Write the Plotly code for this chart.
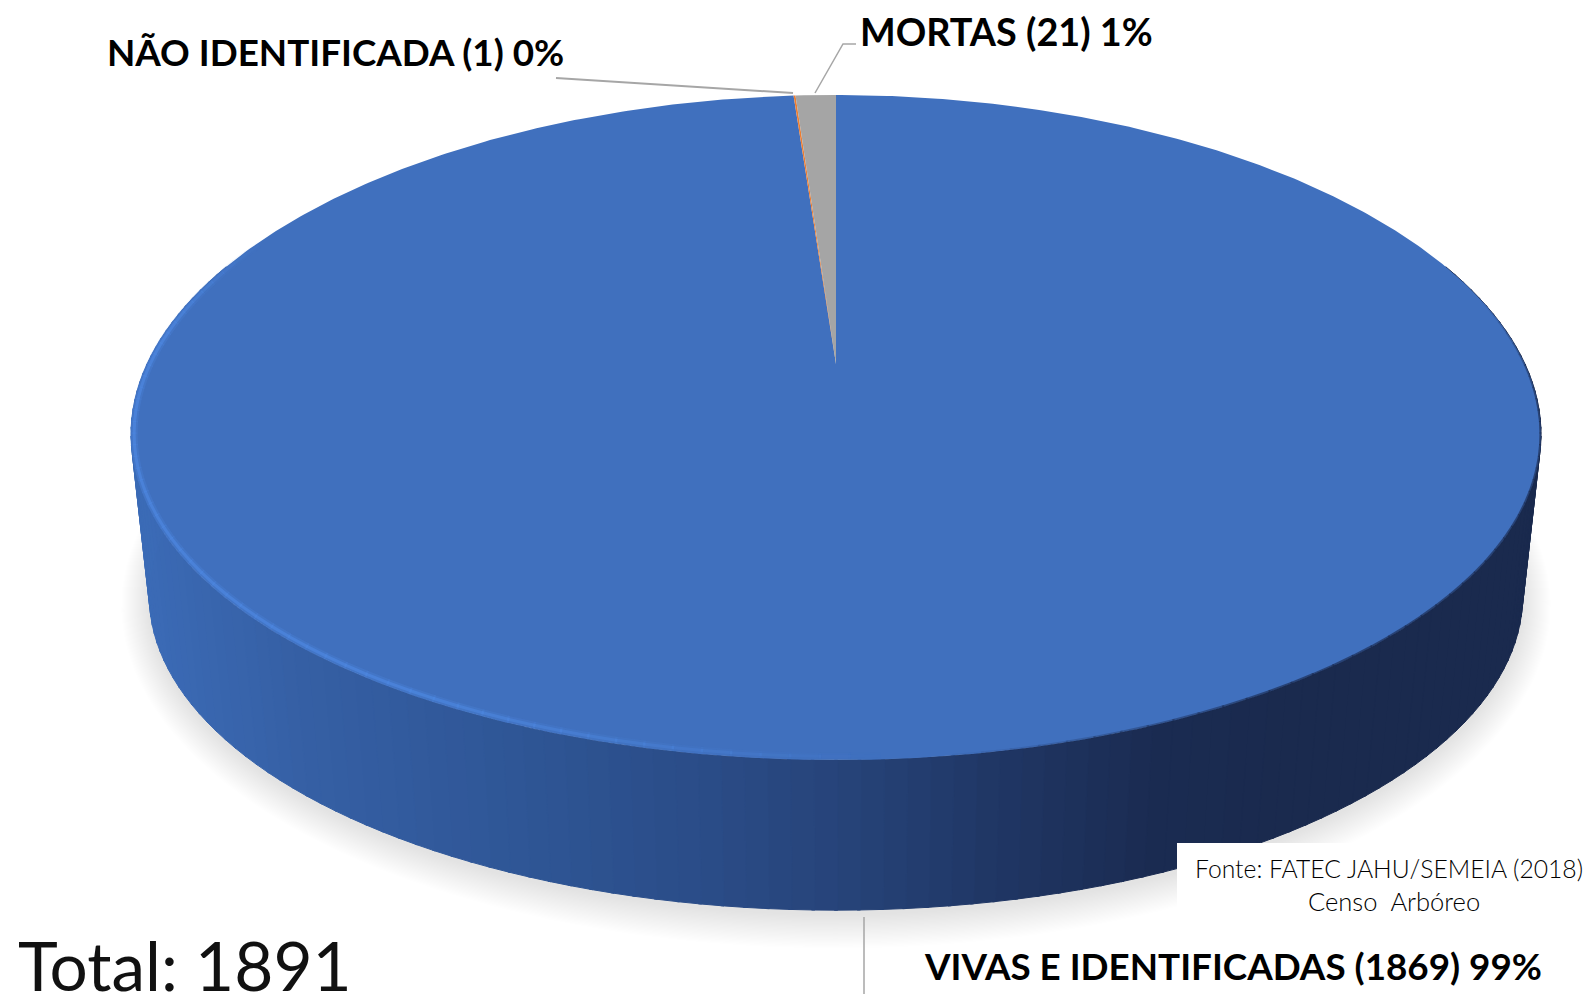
import numpy as np
import plotly.graph_objects as go

# ---- data ----
categories = ["VIVAS E IDENTIFICADAS", "NÃO IDENTIFICADA", "MORTAS"]
values = [1869, 1, 21]
percent_labels = ["99%", "0%", "1%"]
total_label = "Total: 1891"
source_lines = ["Fonte: FATEC JAHU/SEMEIA (2018)", "Censo  Arbóreo"]

# ---- styles ----
W, H = 1588, 994
slice_colors = ["#4070BE", "#ED7D31", "#A5A5A5"]
leader = "#A6A6A6"
CX, K = 836.0, 0.191
TOP = dict(a=692.0, b=320.4, ay=364.0, sag=7.0)
BOT = dict(a=674.0, b=300.6, ay=538.6, sag=-2.0)
wall_stops_x = [131, 300, 520, 700, 836, 1000, 1150, 1300, 1541]
wall_stops_c = [(60, 108, 184), (54, 96, 165), (47, 86, 150), (43, 77, 136), (39, 68, 122),
                (32, 54, 100), (27, 44, 82), (26, 42, 78), (26, 42, 78)]
label_sizes = [36.8, 36.8, 37.8]


def project(theta, g, grow=0.0):
    t = np.asarray(theta)
    d = 1 + K * np.cos(t)
    return (CX + (g["a"] + grow) * np.sin(t) / d,
            g["ay"] - (g["b"] + grow) * np.cos(t) / d + g["sag"] * np.sin(t) ** 2)


def wall_color(x):
    return "rgb(%d,%d,%d)" % tuple(np.interp(x, wall_stops_x, [c[i] for c in wall_stops_c]) for i in range(3))


fig = go.Figure()


def poly(x, y, color, name=None):
    fig.add_trace(go.Scatter(x=x, y=y, mode="lines", fill="toself", fillcolor=color,
                             line=dict(width=0, color=color), showlegend=False,
                             hoverinfo="text" if name else "skip", text=name, hoveron="fills"))


# soft shadow below the disc
ring = np.linspace(0, 2 * np.pi, 241)
for d in range(28, 0, -1):
    sx, sy = project(ring, BOT, grow=d)
    poly(sx, sy + 4, "rgba(0,0,0,0.0052)")

# outer wall, one band per few degrees
edges = np.radians(np.linspace(70, 290, 141))
for t0, t1 in zip(edges[:-1], edges[1:]):
    t = np.array([t0 - 0.002, t1 + 0.002])
    xa, ya = project(t, TOP)
    xb, yb = project(t, BOT)
    c = wall_color((xa.mean() + xb.mean()) / 2)
    fig.add_trace(go.Scatter(x=[xa[0], xa[1], xb[1], xb[0], xa[0]], y=[ya[0], ya[1], yb[1], yb[0], ya[0]],
                             mode="lines", fill="toself", fillcolor=c, line=dict(width=1, color=c),
                             showlegend=False, hoverinfo="skip"))

# top-face slices, built from the values
fractions = np.array(values) / np.sum(values)
angles = np.concatenate([[0], np.cumsum(fractions)]) * 2 * np.pi
apex_y = TOP["ay"]
for i, cat in enumerate(categories):
    t = np.linspace(angles[i], angles[i + 1], max(3, int(360 * fractions[i]) * 2))
    x, y = project(t, TOP)
    poly(np.r_[CX, x, CX], np.r_[apex_y, y, apex_y], slice_colors[i],
         f"{cat} ({values[i]}) {percent_labels[i]}")

# bevel: light on the left/front rim, dark on the right rim
rim = np.radians(np.linspace(175, 295, 61))
for t0, t1 in zip(rim[:-1], rim[1:]):
    t = np.array([t0, t1 + 0.003])
    x, y = project(t, TOP, grow=-3)
    deg = np.degrees(t0)
    alpha = min(1.0, (deg - 175) / 35) * min(1.0, (295 - deg) / 20)
    for width, a in [(7, 0.3), (3, 0.75)]:
        fig.add_trace(go.Scatter(x=x, y=y, mode="lines", line=dict(color=f"rgba(76,134,222,{alpha * a:.2f})", width=width),
                                 showlegend=False, hoverinfo="skip"))
rim = np.radians(np.linspace(75, 172, 50))
for t0, t1 in zip(rim[:-1], rim[1:]):
    t = np.array([t0, t1 + 0.003])
    x, y = project(t, TOP, grow=-0.5)
    deg = np.degrees(t0)
    alpha = 0.65 * min(1.0, (deg - 75) / 20) * min(1.0, (172 - deg) / 25)
    fig.add_trace(go.Scatter(x=x, y=y, mode="lines", line=dict(color=f"rgba(26,42,78,{alpha:.2f})", width=2),
                             showlegend=False, hoverinfo="skip"))

# leader lines
shapes = [dict(type="path", path=p, line=dict(color=leader, width=w), layer="above")
          for p, w in [("M556,78 L793,93", 2), ("M856,44 L843,44 L815,93", 1.5), ("M864,917 L864,994", 1.5)]]
# white box behind the source note
shapes.insert(0, dict(type="rect", x0=1177, x1=W, y0=843, y1=915, fillcolor="white", line=dict(width=0), layer="above"))


def note(x, y, text, size, font, weight, anchor="left", color="#000000"):
    fig.add_annotation(x=x, y=y, xref="x", yref="y", text=text, showarrow=False, xanchor=anchor, yanchor="middle",
                       font=dict(family=font, size=size, color=color, weight=weight))


for (cat, v, p), (x, y), s in zip(zip(categories, values, percent_labels), [(922, 966), (105, 52), (858, 31)], label_sizes):
    note(x, y, f"{cat} ({v}) {p}", s, "Lato", 700)
note(16, 964, total_label, 67.5, "Lato", 400, color="#111111")
note(1389, 868, source_lines[0], 24.7, "Lato", 300, "center", "#000000")
note(1394, 901, source_lines[1], 25.5, "Lato", 300, "center", "#000000")

fig.update_layout(width=W, height=H, margin=dict(l=0, r=0, t=0, b=0), paper_bgcolor="white", plot_bgcolor="white",
                  showlegend=False, shapes=shapes,
                  xaxis=dict(range=[0, W], visible=False, fixedrange=True),
                  yaxis=dict(range=[H, 0], visible=False, fixedrange=True))
fig.write_html("out.html", config=dict(displayModeBar=False),
               post_script="document.body.style.margin='0';document.documentElement.style.overflow='hidden';")
